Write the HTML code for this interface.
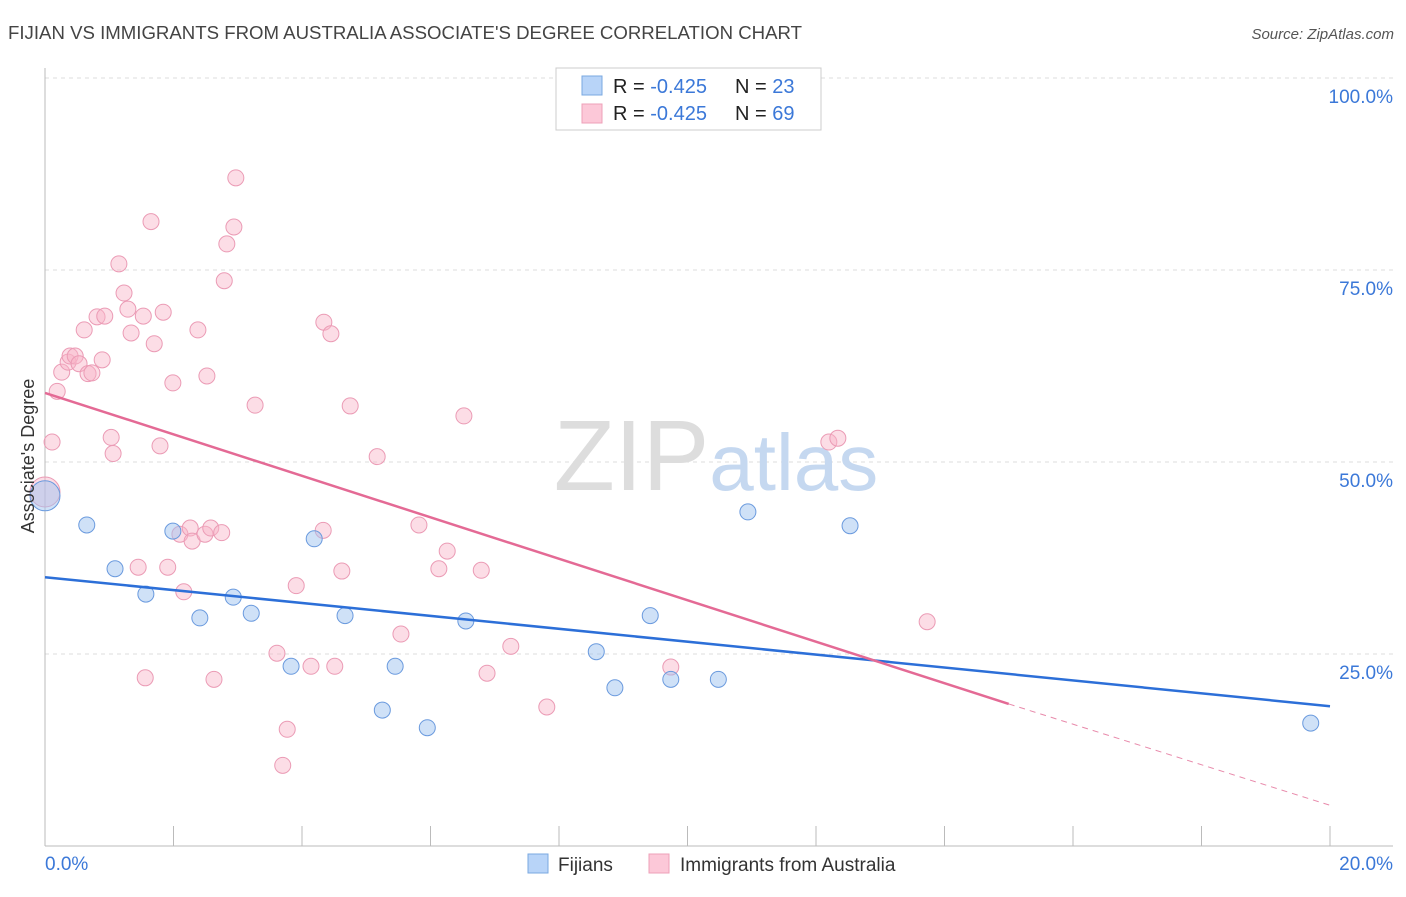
<!DOCTYPE html>
<html><head><meta charset="utf-8"><style>
body{margin:0;background:#fff;font-family:"Liberation Sans",sans-serif;}
svg text{font-family:"Liberation Sans",sans-serif;}
</style></head><body>
<svg width="1406" height="892" xmlns="http://www.w3.org/2000/svg">
<text x="8" y="39" font-size="18" fill="#444" textLength="794" lengthAdjust="spacingAndGlyphs">FIJIAN VS IMMIGRANTS FROM AUSTRALIA ASSOCIATE'S DEGREE CORRELATION CHART</text>
<text x="1394" y="39" font-size="15" fill="#555" font-style="italic" text-anchor="end">Source: ZipAtlas.com</text>
<g id="grid"></g>
<text x="716" y="490" font-size="100" fill="#ddd" text-anchor="middle" font-family="Liberation Serif">ZIP<tspan fill="#c5d8f0" font-family="Liberation Sans" font-size="80">atlas</tspan></text>
<g id="axes"></g>
<g id="marks"></g>
<text transform="translate(34,456) rotate(-90)" font-size="18" fill="#333" text-anchor="middle">Associate's Degree</text>
<g>
<rect x="556" y="68" width="265" height="62" fill="#fff" stroke="#ccc"/>
<rect x="582" y="76" width="20" height="19" fill="#b8d4f8" stroke="#7aa8e0"/>
<rect x="582" y="104" width="20" height="19" fill="#fcc8d8" stroke="#eea0b8"/>
<text x="613" y="93" font-size="20" fill="#222">R = <tspan fill="#3b78d8">-0.425</tspan></text>
<text x="735" y="93" font-size="20" fill="#222">N = <tspan fill="#3b78d8">23</tspan></text>
<text x="613" y="120" font-size="20" fill="#222">R = <tspan fill="#3b78d8">-0.425</tspan></text>
<text x="735" y="120" font-size="20" fill="#222">N = <tspan fill="#3b78d8">69</tspan></text>
</g>
<g>
<rect x="528" y="854" width="20" height="19" fill="#b8d4f8" stroke="#7aa8e0"/>
<text x="558" y="871" font-size="19" fill="#333">Fijians</text>
<rect x="649" y="854" width="20" height="19" fill="#fcc8d8" stroke="#eea0b8"/>
<text x="680" y="871" font-size="19" fill="#333">Immigrants from Australia</text>
</g>
</svg>
<script>
const xTicks=[0,20];
const yTicks=[25,50,75,100];
const blueX=[0.0,0.65,1.09,1.57,1.99,2.41,2.93,3.21,3.83,4.19,4.67,5.25,5.45,5.95,6.55,8.58,8.87,9.42,9.74,10.48,10.94,12.53,19.70];
const blueY=[45.6,41.8,36.1,32.8,41.0,29.7,32.4,30.3,23.4,40.0,30.0,17.7,23.4,15.4,29.3,25.3,20.6,30.0,21.7,21.7,43.5,41.7,16.0];
const pinkX=[0.0,0.11,0.19,0.26,0.36,0.39,0.47,0.53,0.61,0.67,0.73,0.81,0.89,0.93,1.03,1.06,1.15,1.23,1.29,1.34,1.45,1.53,1.56,1.65,1.70,1.79,1.84,1.91,1.99,2.10,2.16,2.26,2.29,2.38,2.49,2.52,2.58,2.63,2.75,2.79,2.83,2.94,2.97,3.27,3.61,3.70,3.77,3.91,4.14,4.33,4.34,4.45,4.51,4.62,4.75,5.17,5.54,5.82,6.13,6.26,6.52,6.79,6.88,7.25,7.81,9.74,12.20,12.34,13.73];
const pinkY=[46.1,52.6,59.2,61.7,63.0,63.8,63.8,62.8,67.2,61.5,61.6,68.9,63.3,69.0,53.2,51.1,75.8,72.0,69.9,66.8,36.3,69.0,21.9,81.3,65.4,52.1,69.5,36.3,60.3,40.6,33.1,41.4,39.7,67.2,40.6,61.2,41.4,21.7,40.8,73.6,78.4,80.6,87.0,57.4,25.1,10.5,15.2,33.9,23.4,41.1,68.2,66.7,23.4,35.8,57.3,50.7,27.6,41.8,36.1,38.4,56.0,35.9,22.5,26.0,18.1,23.3,52.6,53.1,29.2];
const blueLine=[[0,35.0],[20,18.2]];
const pinkLine=[[0,59.0],[15.0,18.5]];
const pinkDash=[[15.0,18.5],[20,5.3]];
const X=v=>45+v/20*1285, Y=v=>846-v/100*768;
const NS="http://www.w3.org/2000/svg";
function mk(p,t,a){const e=document.createElementNS(NS,t);for(const k in a)e.setAttribute(k,a[k]);p.appendChild(e);return e;}
const grid=document.getElementById('grid'),axes=document.getElementById('axes'),marks=document.getElementById('marks');
yTicks.forEach(t=>{const l=mk(grid,'line',{x1:45,x2:1393,y1:Y(t),y2:Y(t),stroke:'#ddd','stroke-dasharray':'4,4'});


const tx=mk(axes,'text',{x:1393,y:Y(t)+25,'font-size':19,fill:'#3b78d8','text-anchor':'end'});tx.textContent=t.toFixed(1)+'%';

});
mk(axes,'line',{x1:45,x2:45,y1:68,y2:846,stroke:'#bbb'});
mk(axes,'line',{x1:45,x2:1393,y1:846,y2:846,stroke:'#bbb'});
for(let i=0;i<=10;i++){const l=mk(axes,'line',{x1:X(i*2),x2:X(i*2),y1:826,y2:846,stroke:'#bbb'});

}
xTicks.forEach((t,i)=>{const tx=mk(axes,'text',{x:i?1393:45,y:870,'font-size':19,fill:'#3b78d8','text-anchor':i?'end':'start'});tx.textContent=t.toFixed(1)+'%';

});
function pts(xs,ys,fill,stroke,name){xs.forEach((x,i)=>{const c=mk(marks,'circle',{cx:X(x),cy:Y(ys[i]),r:i==0?15:8,fill:fill,stroke:stroke,'stroke-width':1});

});}
pts(pinkX,pinkY,'rgba(248,180,200,0.45)','#eb9bb5','pink-point');
pts(blueX,blueY,'rgba(160,195,240,0.5)','#6a9ade','blue-point');
function ln(d,col,dash,name){const l=mk(marks,'line',{x1:X(d[0][0]),y1:Y(d[0][1]),x2:X(d[1][0]),y2:Y(d[1][1]),stroke:col,'stroke-width':dash?1:2.5});if(dash)l.setAttribute('stroke-dasharray','6,5');

}
ln(blueLine,'#2c6fd8',0,'blue-trend-line');
ln(pinkLine,'#e46a95',0,'pink-trend-line');
ln(pinkDash,'#e88aab',1,'pink-trend-extension');
</script>
</body></html>
